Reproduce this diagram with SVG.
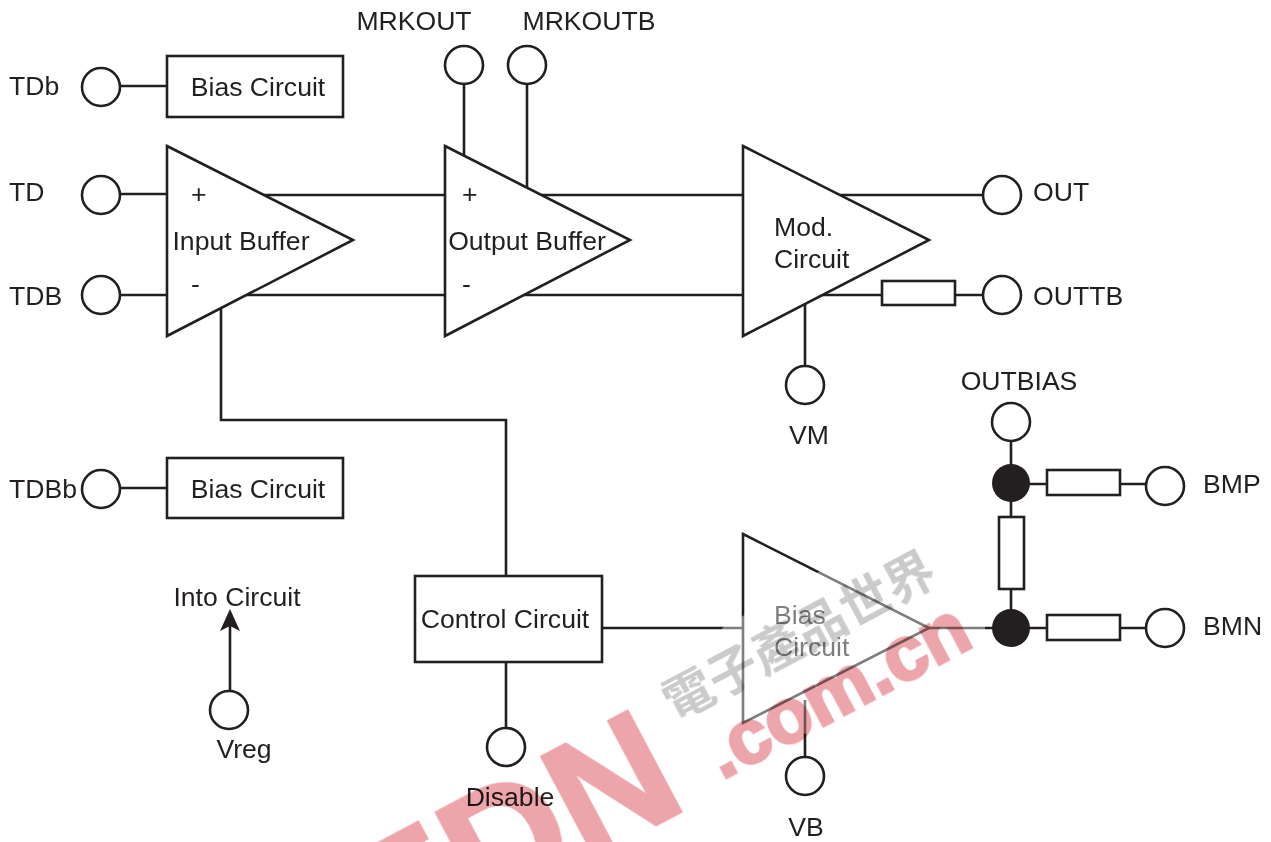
<svg xmlns="http://www.w3.org/2000/svg" width="1271" height="842" viewBox="0 0 1271 842">
<style>
text{font-family:"Liberation Sans",Arial,sans-serif;font-size:26.6px;fill:#231f20}
.m{text-anchor:middle}
.l{fill:none;stroke:#231f20;stroke-width:2.6}
.s{fill:#fff;stroke:#231f20;stroke-width:2.6}
.d{fill:#231f20;stroke:none}
text.wm{font-weight:700;fill:#eca5aa;stroke:#eca5aa;stroke-width:3px;font-size:76px}
text.wb{font-weight:700;fill:#eca5aa;stroke:#eca5aa;stroke-width:3px;font-size:165px}
text.wc{font-family:"Noto Sans CJK TC",sans-serif;font-weight:700;fill:#cbcbcb;font-size:50px}
</style>
<defs><marker id="a" markerWidth="26" markerHeight="22" refX="13" refY="11" orient="auto" markerUnits="userSpaceOnUse"><path d="M24 11L2 1L7 11L2 21Z" fill="#231f20"/></marker></defs>
<g id="connectors">
<path class="l" d="M120 86H167M120 194H167M120 295H167M240 195H445M230 295H445M510 195H743M510 295H743M830 195H984M810 295H882M955 295H984M120 488H167M464 84V165M527 84V200M805 290V366M221 300V420H506V576M506 662V730M603 628H743M900 628H993M1029 628H1047M1120 628H1146M1029 484H1047M1120 484H1146M1011 441V466M1011 500V517M1011 588V610M805 700V758"/>
<path class="l" d="M230 691V620" marker-end="url(#a)"/>
</g>
<g id="tdb-pin"><circle class="s" cx="101" cy="87" r="19"/><text x="9" y="95">TDb</text></g>
<g id="td-pin"><circle class="s" cx="101" cy="195" r="19"/><text x="9" y="201">TD</text></g>
<g id="tdbar-pin"><circle class="s" cx="101" cy="295" r="19"/><text x="9" y="305">TDB</text></g>
<g id="tdbb-pin"><circle class="s" cx="101" cy="489" r="19"/><text x="9" y="498">TDBb</text></g>
<g id="bias-top"><rect class="s" x="167" y="56" width="176" height="61"/><text class="m" x="258" y="96">Bias Circuit</text></g>
<g id="bias-low"><rect class="s" x="167" y="458" width="176" height="60"/><text class="m" x="258" y="498">Bias Circuit</text></g>
<g id="input-buffer"><path class="s" d="M167 146L353 240L167 336Z"/><text x="191" y="203">+</text><text x="191" y="293">-</text><text class="m" x="241" y="250">Input Buffer</text></g>
<g id="output-buffer"><path class="s" d="M445 146L630 240L445 336Z"/><text x="462" y="203">+</text><text x="462" y="293">-</text><text class="m" x="527" y="250">Output Buffer</text></g>
<g id="mod-circuit"><path class="s" d="M743 146L929 240L743 336Z"/><text x="774" y="236">Mod.</text><text x="774" y="268">Circuit</text></g>
<g id="mrkout"><circle class="s" cx="464" cy="65" r="19"/><text class="m" x="414" y="30">MRKOUT</text></g>
<g id="mrkoutb"><circle class="s" cx="527" cy="65" r="19"/><text class="m" x="589" y="30">MRKOUTB</text></g>
<g id="out"><circle class="s" cx="1002" cy="195" r="19"/><text x="1033" y="201">OUT</text></g>
<g id="outtb"><rect class="s" x="882" y="281" width="73" height="24"/><circle class="s" cx="1002" cy="295" r="19"/><text x="1033" y="305">OUTTB</text></g>
<g id="vm"><circle class="s" cx="805" cy="385" r="19"/><text class="m" x="809" y="444">VM</text></g>
<g id="outbias"><circle class="s" cx="1011" cy="422" r="19"/><text class="m" x="1019" y="390">OUTBIAS</text></g>
<g id="bias-network">
<circle class="d" cx="1011" cy="483" r="19"/><circle class="d" cx="1011" cy="628" r="19"/>
<rect class="s" x="1047" y="470" width="73" height="25"/><rect class="s" x="1047" y="615" width="73" height="25"/><rect class="s" x="999" y="517" width="25" height="72"/>
</g>
<g id="bmp"><circle class="s" cx="1165" cy="486" r="19"/><text x="1203" y="493">BMP</text></g>
<g id="bmn"><circle class="s" cx="1165" cy="628" r="19"/><text x="1203" y="635">BMN</text></g>
<g id="control-circuit"><rect class="s" x="415" y="576" width="187" height="86"/><text class="m" x="505" y="628">Control Circuit</text></g>
<g id="bias-amp"><path class="s" d="M743 534L929 628L743 723Z"/><text x="774" y="624">Bias</text><text x="774" y="656">Circuit</text></g>
<g id="vb"><circle class="s" cx="805" cy="776" r="19"/><text class="m" x="806" y="836">VB</text></g>
<g id="disable"><circle class="s" cx="506" cy="747" r="19"/><text class="m" x="510" y="806">Disable</text></g>
<g id="vreg"><circle class="s" cx="229" cy="710" r="19"/><text class="m" x="244" y="758">Vreg</text></g>
<text class="m" x="237" y="606">Into Circuit</text>
<path d="M722 628L822 570L985 600L985 650L830 735L740 730Z" fill="#fff" opacity=".42"/>
<g id="watermark" style="mix-blend-mode:multiply">
<text class="wm" transform="translate(722 780) rotate(-28)">.com.cn</text>
<text class="wb" transform="translate(383 970) rotate(-28)">EDN</text>
<text class="wc" transform="translate(675 722) rotate(-28)">電子產品世界</text>
</g>
</svg>
